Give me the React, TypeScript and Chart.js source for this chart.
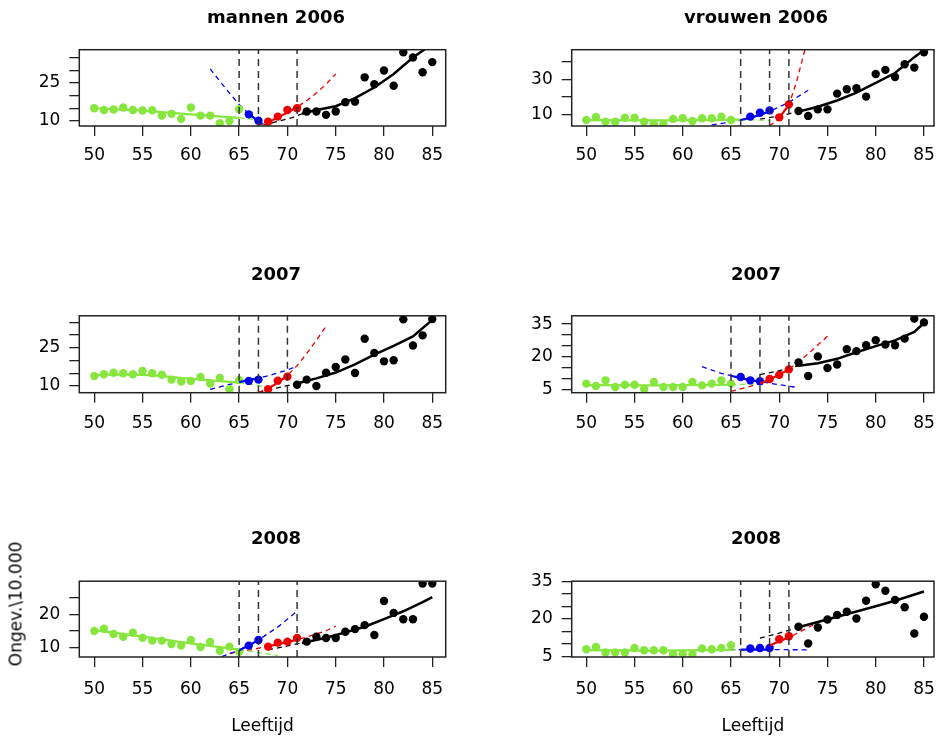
import React, { useEffect, useRef } from "react";
import { Chart, registerables } from "chart.js";

Chart.register(...registerables);

// ---------- shared ----------
const xTicks = [50, 55, 60, 65, 70, 75, 80, 85];
const greenAges = [50, 51, 52, 53, 54, 55, 56, 57, 58, 59, 60, 61, 62, 63, 64, 65];
const blackAges72 = [72, 73, 74, 75, 76, 77, 78, 79, 80, 81, 82, 83, 84, 85];
const blackAges71 = [71, 72, 73, 74, 75, 76, 77, 78, 79, 80, 81, 82, 83, 84, 85];

// ---------- mannen 2006 ----------
const men06Green = [15.0, 14.3, 14.5, 15.3, 14.3, 14.1, 14.2, 12.1, 12.8, 10.8, 15.3, 12.1, 12.1, 9.1, 10.0, 14.6];
const men06BlueAges = [66, 67];
const men06Blue = [12.6, 10.1];
const men06RedAges = [68, 69, 70, 71];
const men06Red = [9.7, 11.7, 14.3, 15.0];
const men06Black = [13.7, 13.7, 12.4, 13.7, 17.4, 17.6, 27.2, 24.5, 29.9, 23.9, 37.1, 35.0, 29.2, 33.2];
const men06GreenFitX = [50, 55, 60, 65];
const men06GreenFitY = [15.0, 14.1, 12.6, 11.2];
const men06GreenExtX = [65, 66, 67, 68];
const men06GreenExtY = [11.2, 10.8, 10.4, 10.0];
const men06BlueFitX = [66, 67];
const men06BlueFitY = [12.8, 9.8];
const men06BlueExtX = [62, 63, 64, 65, 66, 67, 68];
const men06BlueExtY = [30.5, 25.7, 21.0, 16.5, 12.8, 9.8, 8.0];
const men06RedFitX = [68, 69, 70, 71];
const men06RedFitY = [9.5, 11.3, 13.3, 15.5];
const men06RedExtX = [67, 68, 69, 70, 71, 72, 73, 74, 75];
const men06RedExtY = [8.2, 9.5, 11.3, 13.3, 15.5, 18.0, 21.0, 24.5, 28.5];
const men06BlackFitX = [71.5, 73, 75, 77, 79, 81, 83, 84.3];
const men06BlackFitY = [12.8, 14.3, 15.8, 19.0, 23.2, 28.5, 35.0, 38.5];
const men06BlackExtX = [67.5, 69, 70.5, 71.5];
const men06BlackExtY = [8.3, 9.8, 11.3, 12.8];
const men06Breaks = [65, 67, 71];
const men06YTicks = [10, 15, 20, 25, 30, 35];
const men06YLabels = [10, 25];

// ---------- vrouwen 2006 ----------
const women06Green = [7.0, 8.7, 6.0, 6.0, 8.3, 8.3, 6.0, 4.6, 4.6, 7.6, 8.0, 6.4, 8.0, 8.0, 8.9, 7.0];
const women06BlueAges = [67, 68, 69];
const women06Blue = [8.9, 11.1, 12.4];
const women06RedAges = [70, 71];
const women06Red = [8.5, 15.8];
const women06Black = [12.1, 9.3, 13.0, 13.0, 21.9, 24.4, 24.9, 20.2, 33.0, 35.3, 31.3, 38.5, 36.6, 45.3];
const women06GreenFitX = [50, 58, 66];
const women06GreenFitY = [6.9, 6.8, 7.2];
const women06GreenExtX = [66, 67.5, 69];
const women06GreenExtY = [7.2, 7.0, 6.7];
const women06BlueFitX = [66, 67, 68, 69];
const women06BlueFitY = [7.0, 8.2, 9.9, 11.8];
const women06BlueExtX = [63, 65, 67, 69, 71, 73];
const women06BlueExtY = [4.2, 5.8, 8.2, 11.8, 17.0, 23.8];
const women06RedFitX = [70, 71];
const women06RedFitY = [8.2, 15.5];
const women06RedExtX = [69, 70, 71, 71.8, 72.7];
const women06RedExtY = [3.6, 8.2, 15.5, 28.6, 47.5];
const women06BlackFitX = [72, 74, 76, 78, 80, 82, 83, 84, 85];
const women06BlackFitY = [11.7, 14.5, 18.0, 22.5, 28.0, 33.5, 38.0, 42.5, 46.5];
const women06BlackExtX = [68, 69.5, 71, 72];
const women06BlackExtY = [7.5, 8.8, 10.5, 11.7];
const women06Breaks = [66, 69, 71];
const women06YTicks = [10, 20, 30, 40];
const women06YLabels = [10, 30];

// ---------- mannen 2007 ----------
const men07Green = [13.9, 14.6, 15.2, 15.0, 14.6, 15.9, 15.0, 14.4, 12.5, 11.8, 12.0, 13.6, 11.0, 13.2, 8.7, 12.4];
const men07BlueAges = [66, 67];
const men07Blue = [12.0, 12.5];
const men07RedAges = [68, 69, 70];
const men07Red = [8.7, 12.1, 13.7];
const men07Black = [10.5, 12.5, 10.0, 15.2, 17.5, 20.4, 15.1, 28.6, 23.0, 19.7, 20.1, 36.2, 25.9, 29.9, 36.3];
const men07GreenFitX = [50, 53, 56, 60, 65];
const men07GreenFitY = [14.3, 14.6, 14.3, 12.8, 11.3];
const men07GreenExtX = [65, 66, 67, 68];
const men07GreenExtY = [11.3, 10.8, 10.2, 9.6];
const men07BlueFitX = [65, 66, 67];
const men07BlueFitY = [11.5, 12.3, 13.1];
const men07BlueExtX = [62, 64, 66, 68, 70, 71];
const men07BlueExtY = [8.7, 10.6, 12.3, 14.0, 16.3, 17.8];
const men07RedFitX = [68, 69, 70];
const men07RedFitY = [9.0, 11.2, 14.2];
const men07RedExtX = [67, 68, 69, 70, 71, 72, 73, 74];
const men07RedExtY = [7.4, 9.0, 11.2, 14.2, 18.0, 22.8, 28.0, 33.5];
const men07BlackFitX = [71, 73, 75, 77, 79, 81, 83, 85];
const men07BlackFitY = [11.0, 13.0, 15.3, 18.5, 22.3, 25.8, 29.5, 36.0];
const men07BlackExtX = [67, 69, 71];
const men07BlackExtY = [7.6, 9.3, 11.0];
const men07Breaks = [65, 67, 70];
const men07YTicks = [10, 15, 20, 25, 30, 35];
const men07YLabels = [10, 25];

// ---------- vrouwen 2007 ----------
const women07Green = [7.9, 6.8, 9.4, 6.4, 7.4, 7.4, 5.3, 8.7, 6.4, 6.4, 6.4, 8.7, 7.1, 7.9, 9.4, 7.9];
const women07BlueAges = [66, 67, 68];
const women07Blue = [10.9, 9.4, 9.0];
const women07RedAges = [69, 70, 71];
const women07Red = [10.0, 11.9, 14.4];
const women07Black = [17.5, 11.4, 20.3, 15.0, 16.6, 23.6, 22.7, 25.4, 27.7, 25.7, 25.4, 28.4, 37.5, 35.8];
const women07GreenFitX = [50, 57, 65];
const women07GreenFitY = [7.2, 7.1, 7.4];
const women07GreenExtX = [65, 66.5, 68];
const women07GreenExtY = [7.4, 7.6, 7.8];
const women07BlueFitX = [65, 66, 67, 68];
const women07BlueFitY = [11.5, 10.4, 9.5, 8.8];
const women07BlueExtX = [62, 64, 66, 68, 70, 72];
const women07BlueExtY = [15.6, 12.6, 10.4, 8.8, 7.4, 6.1];
const women07RedFitX = [68, 69, 70, 71];
const women07RedFitY = [8.0, 9.8, 12.0, 14.4];
const women07RedExtX = [65, 67, 69, 71, 73, 75];
const women07RedExtY = [4.4, 6.6, 9.8, 14.4, 21.5, 29.5];
const women07BlackFitX = [72, 74, 76, 78, 80, 82, 84, 85];
const women07BlackFitY = [16.0, 17.2, 19.2, 22.2, 25.0, 27.6, 31.5, 35.5];
const women07BlackExtX = [68, 70, 72];
const women07BlackExtY = [12.0, 13.8, 16.0];
const women07Breaks = [65, 68, 71];
const women07YTicks = [5, 10, 15, 20, 25, 30, 35];
const women07YLabels = [5, 20, 35];

// ---------- mannen 2008 ----------
const men08Green = [15.0, 15.7, 14.1, 13.3, 14.5, 13.0, 12.1, 12.1, 11.1, 10.6, 12.3, 10.2, 11.7, 9.0, 10.3, 8.7];
const men08BlueAges = [66, 67];
const men08Blue = [10.6, 12.3];
const men08RedAges = [68, 69, 70, 71];
const men08Red = [10.3, 11.5, 11.8, 12.9];
const men08Black = [11.8, 13.3, 12.9, 12.9, 14.8, 15.6, 16.8, 13.8, 24.1, 20.5, 18.6, 18.6, 29.4, 29.4];
const men08GreenFitX = [50, 55, 60, 65];
const men08GreenFitY = [15.3, 13.3, 11.3, 9.4];
const men08GreenExtX = [65, 67, 69];
const men08GreenExtY = [9.4, 8.5, 7.6];
const men08BlueFitX = [65, 66, 67];
const men08BlueFitY = [9.2, 10.6, 12.3];
const men08BlueExtX = [63.2, 65, 67, 69, 71];
const men08BlueExtY = [7.3, 9.2, 12.3, 16.2, 21.0];
const men08RedFitX = [68, 69, 70, 71];
const men08RedFitY = [10.4, 11.0, 11.7, 12.4];
const men08RedExtX = [64, 66, 68, 70, 72, 74, 75];
const men08RedExtY = [8.2, 9.2, 10.4, 11.7, 13.2, 15.1, 16.5];
const men08BlackFitX = [71.5, 74, 76, 78, 80, 82, 84, 85];
const men08BlackFitY = [11.4, 13.0, 14.6, 16.3, 18.6, 21.0, 23.8, 25.3];
const men08BlackExtX = [68, 70, 71.5];
const men08BlackExtY = [9.3, 10.5, 11.4];
const men08Breaks = [65, 67, 71];
const men08YTicks = [10, 15, 20, 25];
const men08YLabels = [10, 20];

// ---------- vrouwen 2008 ----------
const women08Green = [7.8, 8.7, 6.5, 6.5, 6.5, 8.3, 7.4, 7.4, 7.4, 5.8, 5.8, 5.8, 8.1, 7.8, 8.3, 9.4];
const women08BlueAges = [67, 68, 69];
const women08Blue = [8.1, 8.3, 8.3];
const women08RedAges = [70, 71];
const women08Red = [11.8, 13.0];
const women08Black = [16.8, 10.1, 16.5, 19.7, 21.5, 22.8, 20.1, 27.2, 33.8, 31.2, 27.5, 24.6, 14.1, 20.8];
const women08GreenFitX = [50, 57, 65];
const women08GreenFitY = [7.5, 7.3, 7.6];
const women08GreenExtX = [65, 67, 69];
const women08GreenExtY = [7.6, 7.6, 7.5];
const women08BlueFitX = [66, 69];
const women08BlueFitY = [7.7, 7.7];
const women08BlueExtX = [63, 68, 73];
const women08BlueExtY = [7.7, 7.7, 7.6];
const women08RedFitX = [69, 70, 71];
const women08RedFitY = [9.3, 11.0, 12.5];
const women08RedExtX = [67, 69, 71, 73, 74.5];
const women08RedExtY = [7.6, 9.3, 12.5, 16.5, 19.5];
const women08BlackFitX = [72, 74, 76, 78, 80, 82, 85];
const women08BlackFitY = [16.6, 18.7, 20.8, 22.9, 25.0, 27.2, 30.9];
const women08BlackExtX = [68, 70, 72];
const women08BlackExtY = [12.3, 14.3, 16.6];
const women08Breaks = [66, 69, 71];
const women08YTicks = [5, 10, 15, 20, 25, 30, 35];
const women08YLabels = [5, 20, 35];

// ---------- styles ----------
const GREEN = "#86e63e";
const BLUE = "#0000ee";
const RED = "#ee0000";
const BLACK = "#000000";
const FONT = "DejaVu Sans";

const pts = (xs: number[], ys: number[]) => xs.map((x, i) => ({ x, y: ys[i] }));

type PanelDef = {
  title: string;
  yMin: number;
  yMax: number;
  yTicks: number[];
  yLabels: number[];
  breaks: number[];
  series: { color: string; px: number[]; py: number[]; fx: number[]; fy: number[]; ex: number[]; ey: number[] }[];
};

const panels: PanelDef[] = [
  {
    title: "mannen 2006", yMin: 8.0, yMax: 38.1, yTicks: men06YTicks, yLabels: men06YLabels, breaks: men06Breaks,
    series: [
      { color: GREEN, px: greenAges, py: men06Green, fx: men06GreenFitX, fy: men06GreenFitY, ex: men06GreenExtX, ey: men06GreenExtY },
      { color: BLUE, px: men06BlueAges, py: men06Blue, fx: men06BlueFitX, fy: men06BlueFitY, ex: men06BlueExtX, ey: men06BlueExtY },
      { color: RED, px: men06RedAges, py: men06Red, fx: men06RedFitX, fy: men06RedFitY, ex: men06RedExtX, ey: men06RedExtY },
      { color: BLACK, px: blackAges72, py: men06Black, fx: men06BlackFitX, fy: men06BlackFitY, ex: men06BlackExtX, ey: men06BlackExtY },
    ],
  },
  {
    title: "vrouwen 2006", yMin: 3.6, yMax: 46.7, yTicks: women06YTicks, yLabels: women06YLabels, breaks: women06Breaks,
    series: [
      { color: GREEN, px: greenAges, py: women06Green, fx: women06GreenFitX, fy: women06GreenFitY, ex: women06GreenExtX, ey: women06GreenExtY },
      { color: BLUE, px: women06BlueAges, py: women06Blue, fx: women06BlueFitX, fy: women06BlueFitY, ex: women06BlueExtX, ey: women06BlueExtY },
      { color: RED, px: women06RedAges, py: women06Red, fx: women06RedFitX, fy: women06RedFitY, ex: women06RedExtX, ey: women06RedExtY },
      { color: BLACK, px: blackAges72, py: women06Black, fx: women06BlackFitX, fy: women06BlackFitY, ex: women06BlackExtX, ey: women06BlackExtY },
    ],
  },
  {
    title: "2007", yMin: 7.37, yMax: 37.6, yTicks: men07YTicks, yLabels: men07YLabels, breaks: men07Breaks,
    series: [
      { color: GREEN, px: greenAges, py: men07Green, fx: men07GreenFitX, fy: men07GreenFitY, ex: men07GreenExtX, ey: men07GreenExtY },
      { color: BLUE, px: men07BlueAges, py: men07Blue, fx: men07BlueFitX, fy: men07BlueFitY, ex: men07BlueExtX, ey: men07BlueExtY },
      { color: RED, px: men07RedAges, py: men07Red, fx: men07RedFitX, fy: men07RedFitY, ex: men07RedExtX, ey: men07RedExtY },
      { color: BLACK, px: blackAges71, py: men07Black, fx: men07BlackFitX, fy: men07BlackFitY, ex: men07BlackExtX, ey: men07BlackExtY },
    ],
  },
  {
    title: "2007", yMin: 3.77, yMax: 38.8, yTicks: women07YTicks, yLabels: women07YLabels, breaks: women07Breaks,
    series: [
      { color: GREEN, px: greenAges, py: women07Green, fx: women07GreenFitX, fy: women07GreenFitY, ex: women07GreenExtX, ey: women07GreenExtY },
      { color: BLUE, px: women07BlueAges, py: women07Blue, fx: women07BlueFitX, fy: women07BlueFitY, ex: women07BlueExtX, ey: women07BlueExtY },
      { color: RED, px: women07RedAges, py: women07Red, fx: women07RedFitX, fy: women07RedFitY, ex: women07RedExtX, ey: women07RedExtY },
      { color: BLACK, px: blackAges72, py: women07Black, fx: women07BlackFitX, fy: women07BlackFitY, ex: women07BlackExtX, ey: women07BlackExtY },
    ],
  },
  {
    title: "2008", yMin: 7.15, yMax: 30.1, yTicks: men08YTicks, yLabels: men08YLabels, breaks: men08Breaks,
    series: [
      { color: GREEN, px: greenAges, py: men08Green, fx: men08GreenFitX, fy: men08GreenFitY, ex: men08GreenExtX, ey: men08GreenExtY },
      { color: BLUE, px: men08BlueAges, py: men08Blue, fx: men08BlueFitX, fy: men08BlueFitY, ex: men08BlueExtX, ey: men08BlueExtY },
      { color: RED, px: men08RedAges, py: men08Red, fx: men08RedFitX, fy: men08RedFitY, ex: men08RedExtX, ey: men08RedExtY },
      { color: BLACK, px: blackAges72, py: men08Black, fx: men08BlackFitX, fy: men08BlackFitY, ex: men08BlackExtX, ey: men08BlackExtY },
    ],
  },
  {
    title: "2008", yMin: 4.73, yMax: 35.0, yTicks: women08YTicks, yLabels: women08YLabels, breaks: women08Breaks,
    series: [
      { color: GREEN, px: greenAges, py: women08Green, fx: women08GreenFitX, fy: women08GreenFitY, ex: women08GreenExtX, ey: women08GreenExtY },
      { color: BLUE, px: women08BlueAges, py: women08Blue, fx: women08BlueFitX, fy: women08BlueFitY, ex: women08BlueExtX, ey: women08BlueExtY },
      { color: RED, px: women08RedAges, py: women08Red, fx: women08RedFitX, fy: women08RedFitY, ex: women08RedExtX, ey: women08RedExtY },
      { color: BLACK, px: blackAges72, py: women08Black, fx: women08BlackFitX, fy: women08BlackFitY, ex: women08BlackExtX, ey: women08BlackExtY },
    ],
  },
];

// layout
const COLS = [
  { left: 0, w: 552, yAxisW: 79.3, rightW: 106.3, xMin: 48.45, xMax: 86.39 },
  { left: 470, w: 572, yAxisW: 101.7, rightW: 108, xMin: 48.49, xMax: 86.04 },
];
const ROWS = [
  { top: 0, h: 260, titleTop: 8, titleBottom: 20.1, xAxisH: 134, tickPad: 9.3, xTitle: false },
  { top: 260, h: 260, titleTop: 4.5, titleBottom: 29.7, xAxisH: 127.3, tickPad: 10.4, xTitle: false },
  { top: 520, h: 218, titleTop: 8.7, titleBottom: 30.9, xAxisH: 81, tickPad: 12.8, xTitle: true },
];

const framePlugin = {
  id: "frame",
  afterDatasetsDraw(chart: any, _args: any, opts: any) {
    const { ctx, chartArea } = chart;
    const xs = chart.scales.x;
    ctx.save();
    ctx.beginPath();
    ctx.rect(chartArea.left, chartArea.top, chartArea.right - chartArea.left, chartArea.bottom - chartArea.top);
    ctx.clip();
    ctx.strokeStyle = "#333";
    ctx.lineWidth = 1.5;
    ctx.setLineDash([7, 5]);
    for (const b of opts.breaks as number[]) {
      const x = xs.getPixelForValue(b);
      ctx.beginPath();
      ctx.moveTo(x, chartArea.bottom);
      ctx.lineTo(x, chartArea.top);
      ctx.stroke();
    }
    ctx.restore();
    ctx.save();
    ctx.strokeStyle = "#222";
    ctx.lineWidth = 1.5;
    ctx.strokeRect(chartArea.left, chartArea.top, chartArea.right - chartArea.left, chartArea.bottom - chartArea.top);
    ctx.restore();
  },
};

function PanelChart({ panel, col, row }: { panel: PanelDef; col: any; row: any }) {
  const ref = useRef<HTMLCanvasElement>(null);
  useEffect(() => {
    const datasets: any[] = [];
    for (const s of panel.series) {
      datasets.push({
        data: pts(s.fx, s.fy), showLine: true, pointRadius: 0, borderColor: s.color,
        borderWidth: s.color === BLACK ? 2.5 : 2.2, clip: 0,
      });
    }
    for (const s of panel.series) {
      datasets.push({
        data: pts(s.px, s.py), showLine: false, pointRadius: 4.2, pointBorderWidth: 0,
        backgroundColor: s.color, pointBackgroundColor: s.color, borderColor: s.color, clip: 0,
      });
    }
    for (const s of panel.series) {
      datasets.push({
        data: pts(s.ex, s.ey), showLine: true, pointRadius: 0, borderColor: s.color, borderWidth: 1.3,
        borderDash: [5, 4], clip: 0,
      });
    }
    const tickFont = { family: FONT, size: 17 };
    const chart = new Chart(ref.current!, {
      type: "scatter",
      data: { datasets },
      options: {
        animation: false,
        responsive: false,
        maintainAspectRatio: false,
        events: [],
        layout: { padding: 0 },
        plugins: {
          legend: { display: false },
          tooltip: { enabled: false },
          title: {
            display: true,
            text: panel.title,
            color: "#000",
            font: { family: FONT, size: 18, weight: "bold" },
            padding: { top: row.titleTop, bottom: row.titleBottom },
          },
          frame: { breaks: panel.breaks },
        } as any,
        scales: {
          x: {
            type: "linear",
            position: "bottom",
            min: col.xMin,
            max: col.xMax,
            afterBuildTicks: (s: any) => { s.ticks = xTicks.map((v) => ({ value: v })); },
            afterFit: (s: any) => { s.height = row.xAxisH; s.paddingLeft = 0; s.paddingRight = 0; },
            ticks: { autoSkip: false, maxRotation: 0, minRotation: 0, padding: row.tickPad, color: "#000", font: tickFont },
            grid: { drawOnChartArea: false, drawTicks: true, tickLength: 10, color: "#222", lineWidth: 1.3 },
            border: { display: false },
            title: {
              display: row.xTitle,
              text: "Leeftijd",
              color: "#000",
              font: { family: FONT, size: 17 },
              padding: { top: 0, bottom: 1 },
            },
          },
          y: {
            type: "linear",
            position: "left",
            min: panel.yMin,
            max: panel.yMax,
            afterBuildTicks: (s: any) => { s.ticks = panel.yTicks.map((v) => ({ value: v })); },
            afterFit: (s: any) => { s.width = col.yAxisW; s.paddingTop = 0; s.paddingBottom = 0; },
            ticks: {
              autoSkip: false,
              padding: 9,
              color: "#000",
              font: tickFont,
              callback: (v: any) => (panel.yLabels.includes(Number(v)) ? String(v) : ""),
            },
            grid: { drawOnChartArea: false, drawTicks: true, tickLength: 10, color: "#222", lineWidth: 1.3 },
            border: { display: false },
          },
          yr: {
            type: "linear",
            position: "right",
            display: true,
            afterFit: (s: any) => { s.width = col.rightW; s.paddingTop = 0; s.paddingBottom = 0; },
            ticks: { display: false },
            grid: { display: false },
            border: { display: false },
          },
        } as any,
      },
      plugins: [framePlugin as any],
    });
    return () => chart.destroy();
  }, []);
  return (
    <canvas
      ref={ref}
      width={col.w}
      height={row.h}
      style={{ position: "absolute", left: col.left, top: row.top, width: col.w, height: row.h }}
    />
  );
}

export default function App() {
  return (
    <div style={{ position: "fixed", left: 0, top: 0, width: 939, height: 738, overflow: "hidden", background: "#fff" }}>
      {panels.map((p, i) => (
        <PanelChart key={i} panel={p} col={COLS[i % 2]} row={ROWS[Math.floor(i / 2)]} />
      ))}
      <div
        style={{
          position: "absolute",
          left: 15.5,
          top: 603.5,
          transform: "translate(-50%, -50%) rotate(-90deg)",
          fontFamily: FONT,
          fontSize: 17,
          lineHeight: 1,
          whiteSpace: "nowrap",
          color: "#000",
        }}
      >
        Ongev.\10.000
      </div>
    </div>
  );
}
